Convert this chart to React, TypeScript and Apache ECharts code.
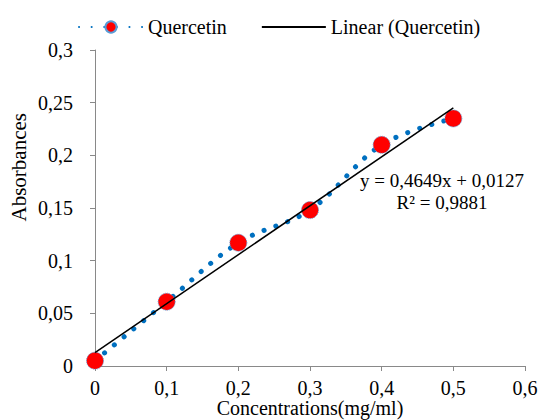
import React, { useEffect, useRef } from "react";
import * as echarts from "echarts";

const concentrations = [0, 0.1, 0.2, 0.3, 0.4, 0.5];
const absorbances = [0.005, 0.061, 0.117, 0.148, 0.21, 0.235];
const slope = 0.4649;
const intercept = 0.0127;
const trendX = [0, 0.5];
const equationLines = ["y = 0,4649x + 0,0127", "R² = 0,9881"];

const FONT = "Liberation Serif";
const comma = (v: number) => String(Number(v.toFixed(4))).replace(".", ",");

export default function App() {
  const ref = useRef<HTMLDivElement>(null);
  useEffect(() => {
    if (!ref.current) return;
    const chart = echarts.init(ref.current, undefined, { renderer: "svg" });
    chart.setOption({
      animation: false,
      backgroundColor: "#ffffff",
      textStyle: { fontFamily: FONT },
      grid: { left: 95, right: 19, top: 50, bottom: 54, containLabel: false, outerBoundsMode: "none" },
      legend: {
        left: 73,
        top: 12,
        itemWidth: 64,
        itemHeight: 14,
        itemGap: 34,
        textStyle: { fontFamily: FONT, fontSize: 20, color: "#000" },
        data: [
          { name: "Quercetin" },
          { name: "Linear (Quercetin)", itemStyle: { opacity: 0 } },
        ],
      },
      xAxis: {
        type: "value",
        min: 0,
        max: 0.6,
        interval: 0.1,
        splitLine: { show: false },
        axisLine: { show: true, lineStyle: { color: "#898989", width: 1 } },
        axisTick: { show: true, length: 5, lineStyle: { color: "#898989" } },
        axisLabel: {
          formatter: comma,
          fontFamily: FONT,
          fontSize: 20,
          lineHeight: 20,
          color: "#000",
          margin: 12,
        },
        name: "Concentrations(mg/ml)",
        nameLocation: "middle",
        nameGap: 32,
        nameMoveOverlap: false,
        nameTextStyle: { fontFamily: FONT, fontSize: 20, lineHeight: 20, color: "#000" },
      },
      yAxis: {
        type: "value",
        min: 0,
        max: 0.3,
        interval: 0.05,
        splitLine: { show: false },
        axisLine: { show: true, lineStyle: { color: "#898989", width: 1 } },
        axisTick: { show: true, length: 5, lineStyle: { color: "#898989" } },
        axisLabel: {
          formatter: comma,
          fontFamily: FONT,
          fontSize: 20,
          color: "#000",
          margin: 22,
        },
      },
      graphic: [
        {
          type: "text",
          left: 8,
          top: 113,
          rotation: Math.PI / 2,
          style: {
            text: "Absorbances",
            fontFamily: FONT,
            fontSize: 21,
            fill: "#000",
          },
        },
        {
          type: "text",
          x: 442,
          y: 169,
          style: {
            text: equationLines.join("\n"),
            fontFamily: FONT,
            fontSize: 19,
            lineHeight: 22,
            fill: "#000",
            align: "center",
          },
        },
      ],
      series: [
        {
          name: "Linear (Quercetin)",
          type: "line",
          data: trendX.map((x) => [x, slope * x + intercept]),
          symbol: "none",
          lineStyle: { color: "#000", width: 1.5 },
          itemStyle: { color: "#000" },
          z: 3,
        },
        {
          name: "Quercetin",
          type: "line",
          data: concentrations.map((x, i) => [x, absorbances[i]]),
          smooth: 0.35,
          symbol: "circle",
          symbolSize: 17,
          lineStyle: { color: "#0070C0", width: 5, type: [0.1, 12.5], cap: "round" },
          itemStyle: { color: "#ff0000", borderColor: "#5B9BD5", borderWidth: 1, borderType: "dotted" },
          z: 2,
        },
      ],
    });
    return () => chart.dispose();
  }, []);
  return <div ref={ref} style={{ width: 544, height: 420, position: "absolute", left: 0, top: 0 }} />;
}
